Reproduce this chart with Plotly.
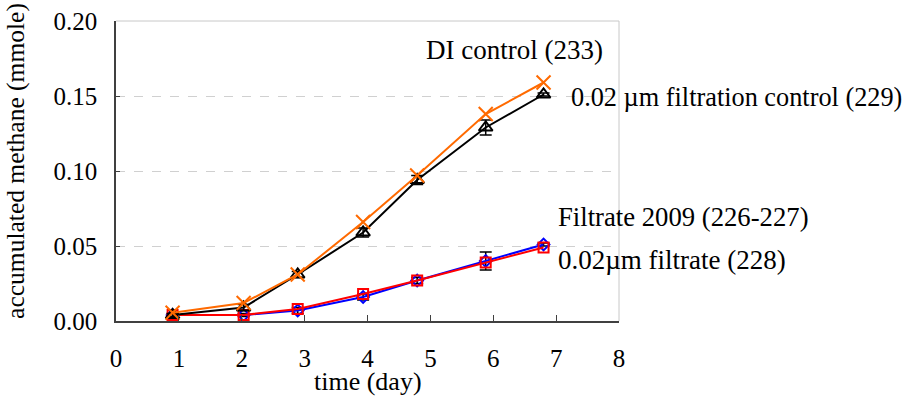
import plotly.graph_objects as go

days = [0.9, 2.03, 2.89, 3.93, 4.79, 5.88, 6.8]

di_control = [0.004, 0.009, 0.031, 0.059, 0.094, 0.129, 0.151]
di_control_err = [0.001, 0.002, 0.002, 0.003, 0.003, 0.005, 0.001]
filt_control = [0.0055, 0.012, 0.031, 0.066, 0.097, 0.138, 0.159]
filtrate_2009 = [0.004, 0.004, 0.007, 0.016, 0.027, 0.040, 0.051]
filtrate_2009_err = [0.001, 0.001, 0.002, 0.002, 0.002, 0.006, 0.001]
filtrate_002 = [0.004, 0.004, 0.008, 0.018, 0.027, 0.039, 0.049]

x_ticks = [0, 1, 2, 3, 4, 5, 6, 7, 8]
y_ticks = [0.0, 0.05, 0.10, 0.15, 0.20]

labels = {
    "di": "DI control (233)",
    "fc": "0.02 \u00b5m filtration control (229)",
    "f09": "Filtrate 2009 (226-227)",
    "f02": "0.02\u00b5m filtrate (228)",
}

FONT = "Liberation Serif, Times New Roman, serif"

fig = go.Figure()

fig.add_trace(go.Scatter(
    x=days, y=filtrate_2009, mode="lines+markers", name=labels["f09"],
    line=dict(color="#0000ff", width=2),
    marker=dict(symbol="diamond-open", size=9, color="#0000ff", line=dict(width=2)),
    error_y=dict(type="data", array=filtrate_2009_err, color="black", thickness=1.5, width=6),
))
fig.add_trace(go.Scatter(
    x=days, y=filtrate_002, mode="lines+markers", name=labels["f02"],
    line=dict(color="#ff0000", width=2),
    marker=dict(symbol="square-open", size=10, color="#ff0000", line=dict(width=2)),
))
fig.add_trace(go.Scatter(
    x=days, y=di_control, mode="lines+markers", name=labels["di"],
    line=dict(color="black", width=2),
    marker=dict(symbol="triangle-up-open", size=12, color="black", line=dict(width=2)),
    error_y=dict(type="data", array=di_control_err, color="black", thickness=1.5, width=6),
))
fig.add_trace(go.Scatter(
    x=days, y=filt_control, mode="lines+markers", name=labels["fc"],
    line=dict(color="#ff6a00", width=2),
    marker=dict(symbol="x-thin-open", size=14, color="#ff6a00", line=dict(width=2, color="#ff6a00")),
))

fig.update_layout(
    width=907, height=400,
    margin=dict(l=116, r=288, t=21, b=79, autoexpand=False),
    paper_bgcolor="white", plot_bgcolor="white",
    showlegend=False,
    font=dict(family=FONT, size=25, color="black"),
    xaxis=dict(
        range=[0, 8], tickvals=x_ticks, ticktext=[str(v) for v in x_ticks],
        ticks="inside", ticklen=6, tickcolor="#404040",
        showline=True, linecolor="#404040", linewidth=1.5, mirror=False,
        showgrid=False, zeroline=False, ticklabelstandoff=14, automargin=False,
        ticklabeloverflow="allow",
        tickfont=dict(family=FONT, size=25),
    ),
    yaxis=dict(
        range=[0, 0.20], tickvals=y_ticks, ticktext=["%.2f" % v for v in y_ticks],
        ticks="inside", ticklen=4, tickcolor="#404040",
        showline=True, linecolor="#404040", linewidth=1.5,
        showgrid=True, gridcolor="#d0d0d0", griddash="dash", gridwidth=1,
        zeroline=False, ticklabelstandoff=12, automargin=False,
        ticklabeloverflow="allow",
        tickfont=dict(family=FONT, size=25),
    ),
    shapes=[
        dict(type="line", xref="paper", yref="paper", x0=0, x1=1, y0=1, y1=1,
             line=dict(color="#c8c8c8", width=1)),
        dict(type="line", xref="paper", yref="paper", x0=1, x1=1, y0=0, y1=1,
             line=dict(color="#c8c8c8", width=1)),
    ],
    annotations=[
        dict(text="accumulated methane (mmole)", xref="paper", yref="paper",
             x=-0.2, y=0.535, xanchor="center", yanchor="middle", textangle=-90,
             showarrow=False, font=dict(family=FONT, size=25.5)),
        dict(text="time (day)", xref="paper", yref="paper",
             x=0.5, y=-0.2, xanchor="center", yanchor="middle",
             showarrow=False, font=dict(family=FONT, size=26)),
        dict(text=labels["di"], xref="x", yref="y", x=4.9, y=0.1807,
             xanchor="left", yanchor="middle", showarrow=False, font=dict(family=FONT, size=27)),
        dict(text=labels["fc"], xref="x", yref="y", x=7.2, y=0.1487,
             xanchor="left", yanchor="middle", showarrow=False, font=dict(family=FONT, size=26.3)),
        dict(text=labels["f09"], xref="x", yref="y", x=6.99, y=0.0693,
             xanchor="left", yanchor="middle", showarrow=False, font=dict(family=FONT, size=26.7)),
        dict(text=labels["f02"], xref="x", yref="y", x=7.0, y=0.0407,
             xanchor="left", yanchor="middle", showarrow=False, font=dict(family=FONT, size=27)),
    ],
)

fig.write_html("out.html", config={"displayModeBar": False},
               post_script="document.body.style.margin='0';")
